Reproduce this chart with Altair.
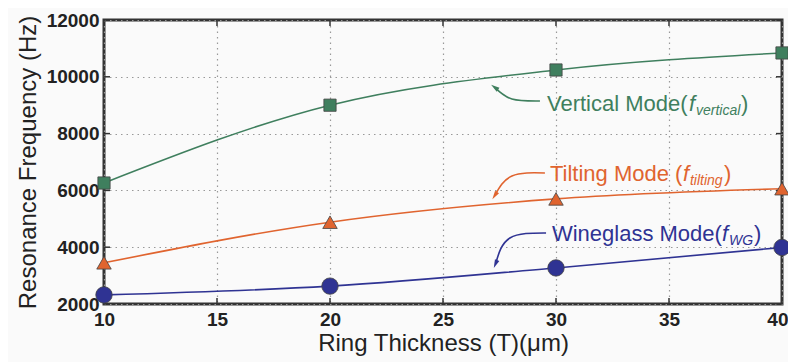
import altair as alt
import pandas as pd

# ---------------- data ----------------
thickness = [10, 20, 30, 40]
vertical = [6260, 9000, 10240, 10840]
tilting = [3450, 4880, 5700, 6060]
wineglass = [2320, 2630, 3270, 3990]

series_names = ["Vertical", "Tilting", "Wineglass"]
series_colors = ["#3f7f5e", "#e0642f", "#2f3393"]
series_shapes = ["square", "triangle-up", "circle"]
series_sizes = [150, 270, 200]

x_ticks = [10, 15, 20, 25, 30, 35, 40]
y_ticks = [2000, 4000, 6000, 8000, 10000, 12000]

label_main = ["Vertical Mode(", "Tilting Mode (", "Wineglass Mode("]
label_sub = ["vertical", "tilting", "WG"]
label_x = [29.6, 29.73, 29.82]
label_y = [8796, 6331, 4218]

arrow_x = [[29.29, 28.05, 27.3], [29.51, 28.05, 27.3], [29.56, 27.96, 27.33]]
arrow_y = [[9148, 9218, 9620], [6613, 6507, 5830], [4500, 4324, 3420]]
arrow_angle = [305, 213, 203]

# layout offsets (pixels) for the label pieces
f_dx = [142, 133, 170]
sub_dx = [149, 140, 177]
close_dx = [194, 174, 202]

W, H = 678, 284
FONT = "Liberation Sans"

# ---------------- build ----------------
rows = []
for name, vals in zip(series_names, [vertical, tilting, wineglass]):
    for t, v in zip(thickness, vals):
        rows.append({"T": t, "f": v, "series": name})
df = pd.DataFrame(rows)

xs = alt.Scale(domain=[10, 40], nice=False)
ys = alt.Scale(domain=[2000, 12000], nice=False)
cs = alt.Scale(domain=series_names, range=series_colors)

last_x = x_ticks[-1]
xaxis = alt.Axis(
    values=x_ticks, title="Ring Thickness (T)(\u03bcm)", grid=True, labelFlush=False,
    labelAlign={"condition": {"test": f"datum.value == {last_x}", "value": "right"}, "value": "center"},
    labelOffset={"condition": {"test": f"datum.value == {last_x}", "value": 6}, "value": 0},
)
yaxis = alt.Axis(values=y_ticks, title="Resonance Frequency (Hz)", grid=True, format="d", labelFlush=False)

lines = alt.Chart(df).mark_line(strokeWidth=1.6, interpolate="monotone").encode(
    x=alt.X("T:Q", scale=xs, axis=xaxis),
    y=alt.Y("f:Q", scale=ys, axis=yaxis),
    color=alt.Color("series:N", scale=cs, legend=None),
)

points = alt.Chart(df).mark_point(filled=True, opacity=1, stroke="#444", strokeWidth=0.8).encode(
    x=alt.X("T:Q", scale=xs),
    y=alt.Y("f:Q", scale=ys),
    fill=alt.Fill("series:N", scale=cs, legend=None),
    shape=alt.Shape("series:N", scale=alt.Scale(domain=series_names, range=series_shapes), legend=None),
    size=alt.Size("series:N", scale=alt.Scale(domain=series_names, range=series_sizes), legend=None),
)

layers = []

# inward ticks on all four sides
xt = pd.DataFrame({"x": x_ticks})
yt = pd.DataFrame({"y": y_ticks})
tick_style = dict(color="#333", strokeWidth=1.5)
layers.append(alt.Chart(xt).mark_rule(**tick_style).encode(x=alt.X("x:Q", scale=xs), y=alt.value(H), y2=alt.value(H - 6)))
layers.append(alt.Chart(xt).mark_rule(**tick_style).encode(x=alt.X("x:Q", scale=xs), y=alt.value(0), y2=alt.value(6)))
layers.append(alt.Chart(yt).mark_rule(**tick_style).encode(y=alt.Y("y:Q", scale=ys), x=alt.value(0), x2=alt.value(6)))
layers.append(alt.Chart(yt).mark_rule(**tick_style).encode(y=alt.Y("y:Q", scale=ys), x=alt.value(W), x2=alt.value(W - 6)))

layers += [lines, points]

for i in range(3):
    c = series_colors[i]
    ld = pd.DataFrame({"x": [label_x[i]], "y": [label_y[i]]})
    base = alt.Chart(ld).encode(x=alt.X("x:Q", scale=xs), y=alt.Y("y:Q", scale=ys))
    layers.append(base.mark_text(align="left", baseline="alphabetic", font=FONT, fontSize=22, color=c,
                                 text=label_main[i]))
    layers.append(base.mark_text(align="left", baseline="alphabetic", font=FONT, fontSize=22, color=c,
                                 fontStyle="italic", text="f", dx=f_dx[i]))
    layers.append(base.mark_text(align="left", baseline="alphabetic", font=FONT, fontSize=14, color=c,
                                 fontStyle="italic", text=label_sub[i], dx=sub_dx[i], dy=4))
    layers.append(base.mark_text(align="left", baseline="alphabetic", font=FONT, fontSize=22, color=c,
                                 text=")", dx=close_dx[i]))
    ad = pd.DataFrame({"x": arrow_x[i], "y": arrow_y[i], "o": [0, 1, 2]})
    layers.append(alt.Chart(ad).mark_line(color=c, strokeWidth=1.6, interpolate="natural").encode(
        x=alt.X("x:Q", scale=xs), y=alt.Y("y:Q", scale=ys), order="o:Q"))
    hd = pd.DataFrame({"x": [arrow_x[i][2]], "y": [arrow_y[i][2]]})
    layers.append(alt.Chart(hd).mark_point(filled=True, opacity=1, color=c, size=90,
                                           shape="M0,-1L0.5,0.8L-0.5,0.8Z", angle=arrow_angle[i]).encode(
        x=alt.X("x:Q", scale=xs), y=alt.Y("y:Q", scale=ys)))

chart = alt.layer(*layers).properties(
    width=W, height=H,
    padding={"left": 96, "top": 12, "right": 6, "bottom": 58},
    autosize=alt.AutoSizeParams(type="none"),
    background="#fafafa",
).configure_view(
    stroke="#333", strokeWidth=3, fill="#fafafa"
).configure_axis(
    domain=False, ticks=False,
    gridColor="#999", gridDash=[1.5, 4], gridWidth=1.2,
    labelFont=FONT, labelFontWeight="bold", labelFontSize=19, labelColor="#222",
    titleFont=FONT, titleFontWeight="normal", titleFontSize=24, titleColor="#222",
).configure_axisX(
    labelPadding=6, titlePadding=2,
).configure_axisY(
    labelPadding=5, titlePadding=6,
)

chart.save("out.html", embed_options={"renderer": "svg", "actions": False})
